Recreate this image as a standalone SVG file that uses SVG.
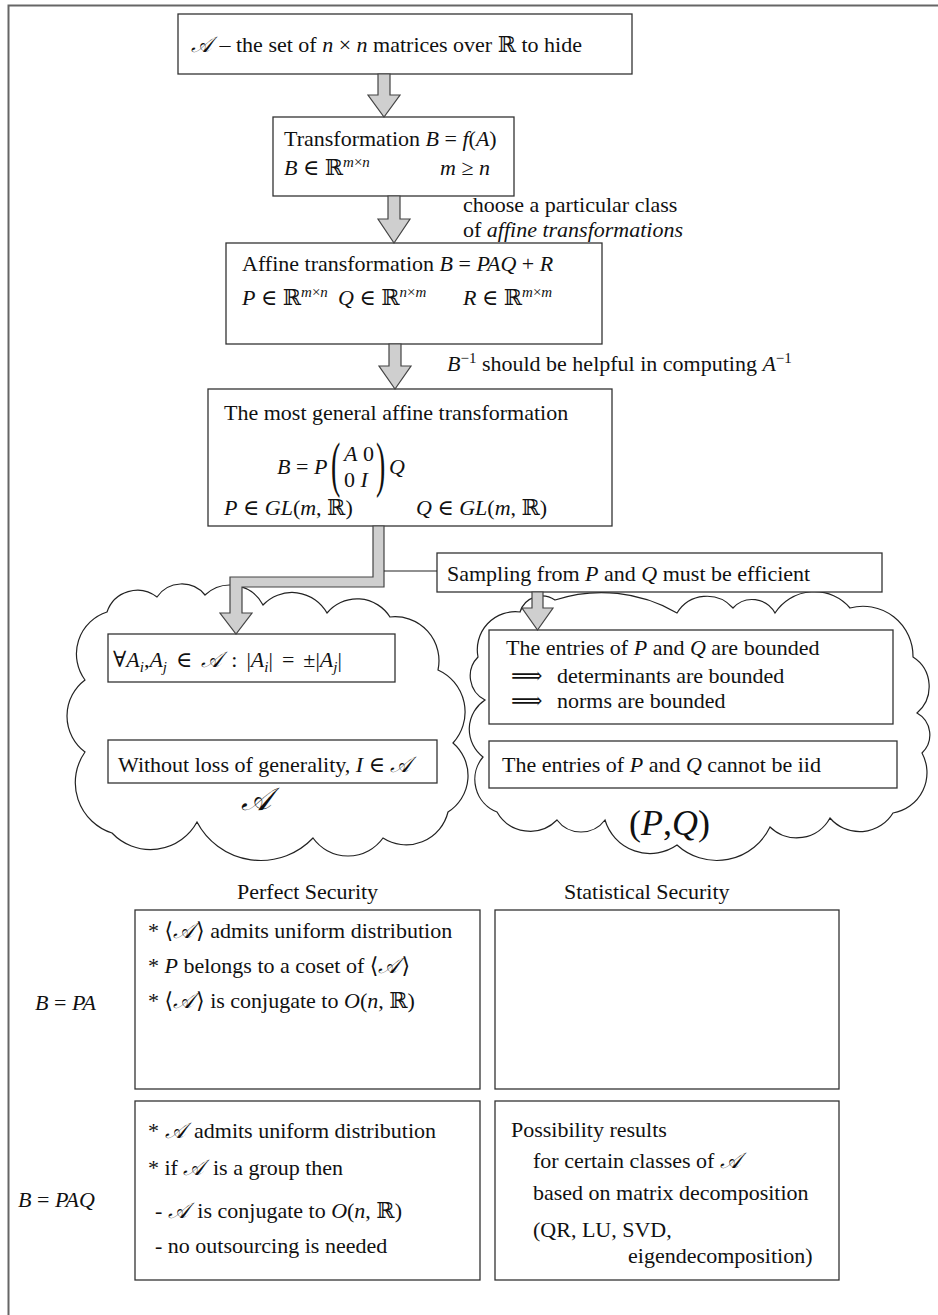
<svg xmlns="http://www.w3.org/2000/svg" width="938" height="1315" viewBox="0 0 938 1315">
<style>
.t{font-family:"Liberation Serif","DejaVu Serif",serif;font-size:22px;fill:#111}
.i{font-style:italic}
.sc{font-family:"DejaVu Serif","DejaVu Sans","Noto Sans",serif;font-style:italic}
.sm{font-size:15px}
.big{font-size:36px}
.bigA{font-size:32px}
.par{font-size:62px}
.box{fill:#fff;stroke:#333;stroke-width:1.3}
.arr{fill:#cfcfcf;stroke:#444;stroke-width:1.2;stroke-linejoin:miter}
.cloud{fill:none;stroke:#222;stroke-width:1.2}
.frame{fill:none;stroke:#666;stroke-width:2}
.thin{stroke:#222;stroke-width:1.2;fill:none}
</style>
<rect width="938" height="1315" fill="#fff"/>
<path class="frame" d="M8.5,1315 V5.5 H938"/>

<g id="clouds">
<path id="cloudA" class="cloud" d="M85,680 A44,44 0 0,1 107,612 A32,32 0 0,1 157,597 A30,30 0 0,1 205,595 A37,37 0 0,1 263,605 A40,40 0 0,1 327,613 A39,39 0 0,1 390,617 A44,44 0 0,1 438,670 A46,46 0 0,1 453,743 A43,43 0 0,1 448,812 A43,43 0 0,1 383,838 A43,43 0 0,1 313,838 A72,72 0 0,1 197,822 A53,53 0 0,1 112,833 A53,53 0 0,1 85,752 A45,45 0 0,1 85,680 Z"/>
<path id="cloudPQ" class="cloud" d="M478,657 A38,38 0 0,1 520,612 A23,23 0 0,1 555,600 A150,150 0 0,1 677,613 A35,35 0 0,1 733,608 A26,26 0 0,1 775,613 A47,47 0 0,1 850,608 A50,50 0 0,1 913,657 A35,35 0 0,1 917,713 A25,25 0 0,1 922,753 A41,41 0 0,1 893,813 A39,39 0 0,1 830,818 A38,38 0 0,1 770,827 A59,59 0 0,1 677,845 A47,47 0 0,1 605,820 A30,30 0 0,1 557,820 A38,38 0 0,1 497,812 A35,35 0 0,1 483,757 A35,35 0 0,1 485,700 A27,27 0 0,1 478,657 Z"/>
<text class="t sc bigA" x="241" y="810">𝒜</text>
<text class="t big" x="629" y="835">(<tspan class="i">P</tspan>,<tspan class="i">Q</tspan>)</text>
</g>

<g id="n1">
<rect class="box" x="178" y="14" width="454" height="60"/>
<text class="t" x="191" y="52"><tspan class="sc">𝒜</tspan><tspan dx="2"> – the set of </tspan><tspan class="i">n</tspan> × <tspan class="i">n</tspan> matrices over ℝ to hide</text>
</g>

<g id="n2">
<rect class="box" x="273" y="117" width="241" height="79"/>
<text class="t" x="284" y="146">Transformation <tspan class="i">B</tspan> = <tspan class="i">f</tspan>(<tspan class="i">A</tspan>)</text>
<text class="t" x="284" y="175"><tspan class="i">B</tspan> ∈ ℝ<tspan class="sm i" dy="-8">m</tspan><tspan class="sm">×</tspan><tspan class="sm i">n</tspan></text>
<text class="t" x="440" y="175"><tspan class="i">m</tspan> ≥ <tspan class="i">n</tspan></text>
</g>

<g id="label-choose">
<text class="t" x="463" y="212">choose a particular class</text>
<text class="t" x="463" y="237">of <tspan class="i">affine transformations</tspan></text>
</g>

<g id="n3">
<rect class="box" x="226" y="243" width="376" height="101"/>
<text class="t" x="242" y="271">Affine transformation <tspan class="i">B</tspan> = <tspan class="i">PAQ</tspan> + <tspan class="i">R</tspan></text>
<text class="t" x="242" y="305"><tspan class="i">P</tspan> ∈ ℝ<tspan class="sm i" dy="-8">m</tspan><tspan class="sm">×</tspan><tspan class="sm i">n</tspan></text>
<text class="t" x="338" y="305"><tspan class="i">Q</tspan> ∈ ℝ<tspan class="sm i" dy="-8">n</tspan><tspan class="sm">×</tspan><tspan class="sm i">m</tspan></text>
<text class="t" x="463" y="305"><tspan class="i">R</tspan> ∈ ℝ<tspan class="sm i" dy="-8">m</tspan><tspan class="sm">×</tspan><tspan class="sm i">m</tspan></text>
</g>

<g id="label-inverse">
<text class="t" x="447" y="371"><tspan class="i">B</tspan><tspan class="sm" dy="-8">−1</tspan><tspan dy="8"> should be helpful in computing </tspan><tspan class="i">A</tspan><tspan class="sm" dy="-8">−1</tspan></text>
</g>

<g id="n4">
<rect class="box" x="208" y="389" width="404" height="137"/>
<text class="t" x="224" y="420">The most general affine transformation</text>
<text class="t" x="277" y="474"><tspan class="i">B</tspan> = <tspan class="i">P</tspan></text>
<text class="t par" transform="translate(331,485) scale(0.45,1)">(</text>
<text class="t" x="344" y="461"><tspan class="i">A</tspan> 0</text>
<text class="t" x="344" y="487">0 <tspan class="i">I</tspan></text>
<text class="t par" transform="translate(376,485) scale(0.45,1)">)</text>
<text class="t i" x="389" y="474">Q</text>
<text class="t" x="224" y="515"><tspan class="i">P</tspan> ∈ <tspan class="i">GL</tspan>(<tspan class="i">m</tspan>, ℝ)</text>
<text class="t" x="416" y="515"><tspan class="i">Q</tspan> ∈ <tspan class="i">GL</tspan>(<tspan class="i">m</tspan>, ℝ)</text>
</g>

<g id="n5">
<rect class="box" x="437" y="553" width="445" height="39"/>
<text class="t" x="447" y="581">Sampling from <tspan class="i">P</tspan> and <tspan class="i">Q</tspan> must be efficient</text>
</g>

<g id="n6">
<rect class="box" x="108" y="634" width="287" height="48"/>
<text class="t" x="113" y="667">∀<tspan class="i">A</tspan><tspan class="sm i" dy="5">i</tspan><tspan dy="-5">,</tspan><tspan class="i">A</tspan><tspan class="sm i" dy="5">j</tspan><tspan dy="-5" dx="9">∈</tspan><tspan class="sc" dx="9">𝒜</tspan><tspan dx="9">:</tspan><tspan dx="9">|</tspan><tspan class="i">A</tspan><tspan class="sm i" dy="5">i</tspan><tspan dy="-5">|</tspan><tspan dx="9">=</tspan><tspan dx="9">±|</tspan><tspan class="i">A</tspan><tspan class="sm i" dy="5">j</tspan><tspan dy="-5">|</tspan></text>
</g>

<g id="n7">
<rect class="box" x="108" y="740" width="329" height="43"/>
<text class="t" x="118" y="772">Without loss of generality, <tspan class="i">I</tspan> ∈ <tspan class="sc">𝒜</tspan></text>
</g>

<g id="n8">
<rect class="box" x="489" y="630" width="404" height="94"/>
<text class="t" x="506" y="655">The entries of <tspan class="i">P</tspan> and <tspan class="i">Q</tspan> are bounded</text>
<text class="t" x="511" y="683">⟹</text>
<text class="t" x="557" y="683">determinants are bounded</text>
<text class="t" x="511" y="708">⟹</text>
<text class="t" x="557" y="708">norms are bounded</text>
</g>

<g id="n9">
<rect class="box" x="489" y="741" width="408" height="47"/>
<text class="t" x="502" y="772">The entries of <tspan class="i">P</tspan> and <tspan class="i">Q</tspan> cannot be iid</text>
</g>

<g id="headers">
<text class="t" x="237" y="899">Perfect Security</text>
<text class="t" x="564" y="899">Statistical Security</text>
<text class="t" x="35" y="1010"><tspan class="i">B</tspan> = <tspan class="i">PA</tspan></text>
<text class="t" x="18" y="1207"><tspan class="i">B</tspan> = <tspan class="i">PAQ</tspan></text>
</g>

<g id="n10">
<rect class="box" x="135" y="910" width="345" height="179"/>
<text class="t" x="148" y="938">* ⟨<tspan class="sc">𝒜</tspan><tspan dx="2">⟩ admits uniform distribution</tspan></text>
<text class="t" x="148" y="973">* <tspan class="i">P</tspan> belongs to a coset of ⟨<tspan class="sc">𝒜</tspan><tspan dx="2">⟩</tspan></text>
<text class="t" x="148" y="1008">* ⟨<tspan class="sc">𝒜</tspan><tspan dx="2">⟩ is conjugate to </tspan><tspan class="i">O</tspan>(<tspan class="i">n</tspan>, ℝ)</text>
</g>

<g id="n11">
<rect class="box" x="495" y="910" width="344" height="179"/>
</g>

<g id="n12">
<rect class="box" x="135" y="1101" width="345" height="179"/>
<text class="t" x="148" y="1138">* <tspan class="sc">𝒜</tspan><tspan dx="3"> admits uniform distribution</tspan></text>
<text class="t" x="148" y="1175">* if <tspan class="sc">𝒜</tspan><tspan dx="3"> is a group then</tspan></text>
<text class="t" x="155" y="1218">- <tspan class="sc">𝒜</tspan><tspan dx="3"> is conjugate to </tspan><tspan class="i">O</tspan>(<tspan class="i">n</tspan>, ℝ)</text>
<text class="t" x="155" y="1253">- no outsourcing is needed</text>
</g>

<g id="n13">
<rect class="box" x="495" y="1101" width="344" height="179"/>
<text class="t" x="511" y="1137">Possibility results</text>
<text class="t" x="533" y="1168">for certain classes of <tspan class="sc">𝒜</tspan></text>
<text class="t" x="533" y="1200">based on matrix decomposition</text>
<text class="t" x="533" y="1237">(QR, LU, SVD,</text>
<text class="t" x="628" y="1263">eigendecomposition)</text>
</g>

<g id="connectors">
<polygon class="arr" points="378,74 390,74 390,95 400,95 384,117 368,95 378,95"/>
<polygon class="arr" points="388,196 400,196 400,219 410,219 394,243 378,219 388,219"/>
<polygon class="arr" points="389,344 401,344 401,366 411,366 395,389 379,366 389,366"/>
<polygon class="arr" points="373,526 384,526 384,587 242,587 242,613 252,613 236,634 220,613 230,613 230,577 373,577"/>
<line class="thin" x1="384" y1="571" x2="437" y2="571"/>
<polygon class="arr" points="532,592 543,592 543,608 553,608 537.5,630 522,608 532,608"/>
</g>
</svg>
